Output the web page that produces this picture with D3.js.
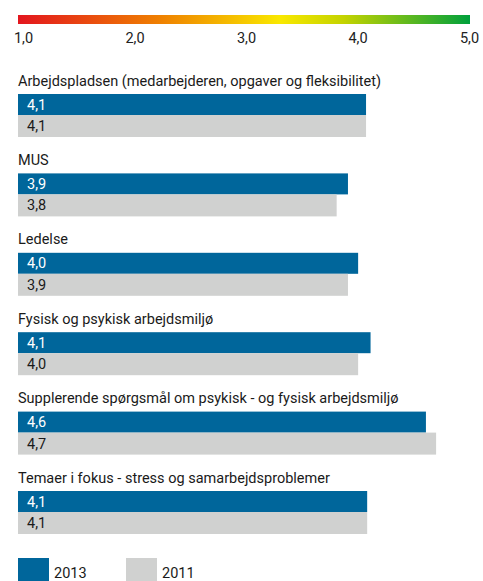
<!DOCTYPE html>
<html><head><meta charset="utf-8">
<script src="https://cdn.jsdelivr.net/npm/d3@7"></script>
<style>body{margin:0;background:#fff;} svg{display:block;}</style>
</head><body>
<svg id="c" width="483" height="581"></svg>
<script>
const categories = [
  "Arbejdspladsen (medarbejderen, opgaver og fleksibilitet)",
  "MUS",
  "Ledelse",
  "Fysisk og psykisk arbejdsmiljø",
  "Supplerende spørgsmål om psykisk - og fysisk arbejdsmiljø",
  "Temaer i fokus - stress og samarbejdsproblemer"
];
const values2013 = [4.08, 3.92, 4.01, 4.12, 4.61, 4.09];
const values2011 = [4.08, 3.82, 3.92, 4.01, 4.70, 4.09];
const labels2013 = ["4,1", "3,9", "4,0", "4,1", "4,6", "4,1"];
const labels2011 = ["4,1", "3,8", "3,9", "4,0", "4,7", "4,1"];
const tickValues = [1, 2, 3, 4, 5];
const tickLabels = ["1,0", "2,0", "3,0", "4,0", "5,0"];
const seriesNames = ["2013", "2011"];

const blue = "#00669B", grey = "#D0D1D0";
const font = "Roboto, 'Open Sans', sans-serif";
const fs = 14.5;
const svg = d3.select("#c");

const x = d3.scaleLinear().domain([1, 5]).range([18, 470]);
const xTicks = d3.scaleLinear().domain([1, 5]).range([23, 469]);

// gradient bar
const defs = svg.append("defs");
const grad = defs.append("linearGradient").attr("id", "g").attr("x1", "0").attr("x2", "1").attr("y1", "0").attr("y2", "0");
[[0, "#E3161E"], [0.32, "#EF8200"], [0.58, "#F9E800"], [0.72, "#C4D300"], [1, "#00A03C"]]
  .forEach(([o, c]) => grad.append("stop").attr("offset", o).attr("stop-color", c));
svg.append("rect").attr("x", x(1)).attr("y", 15).attr("width", x(5) - x(1)).attr("height", 9).attr("fill", "url(#g)");

const axis = d3.axisBottom(xTicks).tickValues(tickValues).tickSize(0).tickPadding(0)
  .tickFormat((d, i) => tickLabels[i]);
const ag = svg.append("g").attr("transform", "translate(0,33)").call(axis);
ag.select(".domain").remove();
ag.selectAll("text").attr("font-family", font).attr("font-size", fs).attr("fill", "#222");

// groups
const y = d3.scaleBand().domain(d3.range(categories.length)).range([94, 94 + 79.4 * 6]).paddingInner(0).paddingOuter(0);
const barH = 21;
const g = svg.selectAll("g.grp").data(categories).join("g").attr("class", "grp")
  .attr("transform", (d, i) => `translate(0,${y(i)})`);

g.append("text").attr("x", 18).attr("y", -8.5).text(d => d)
  .attr("font-family", font).attr("font-size", fs).attr("fill", "#1a1a1a");

g.append("rect").attr("x", x(1)).attr("y", 0).attr("height", barH)
  .attr("width", (d, i) => x(values2013[i]) - x(1)).attr("fill", blue);
g.append("rect").attr("x", x(1)).attr("y", barH).attr("height", barH + 1)
  .attr("width", (d, i) => x(values2011[i]) - x(1)).attr("fill", grey);
g.append("text").attr("x", 27).attr("y", 15.5).text((d, i) => labels2013[i])
  .attr("font-family", font).attr("font-size", fs).attr("fill", "#fff");
g.append("text").attr("x", 27).attr("y", 37).text((d, i) => labels2011[i])
  .attr("font-family", font).attr("font-size", fs).attr("fill", "#1a1a1a");

// legend
const lg = svg.selectAll("g.leg").data(seriesNames).join("g").attr("class", "leg")
  .attr("transform", (d, i) => `translate(${18 + i * 108},558)`);
lg.append("rect").attr("width", 31).attr("height", 23).attr("fill", (d, i) => i === 0 ? blue : grey);
lg.append("text").attr("x", 36).attr("y", 20).text(d => d)
  .attr("font-family", font).attr("font-size", fs).attr("fill", "#1a1a1a");
</script>
</body></html>
